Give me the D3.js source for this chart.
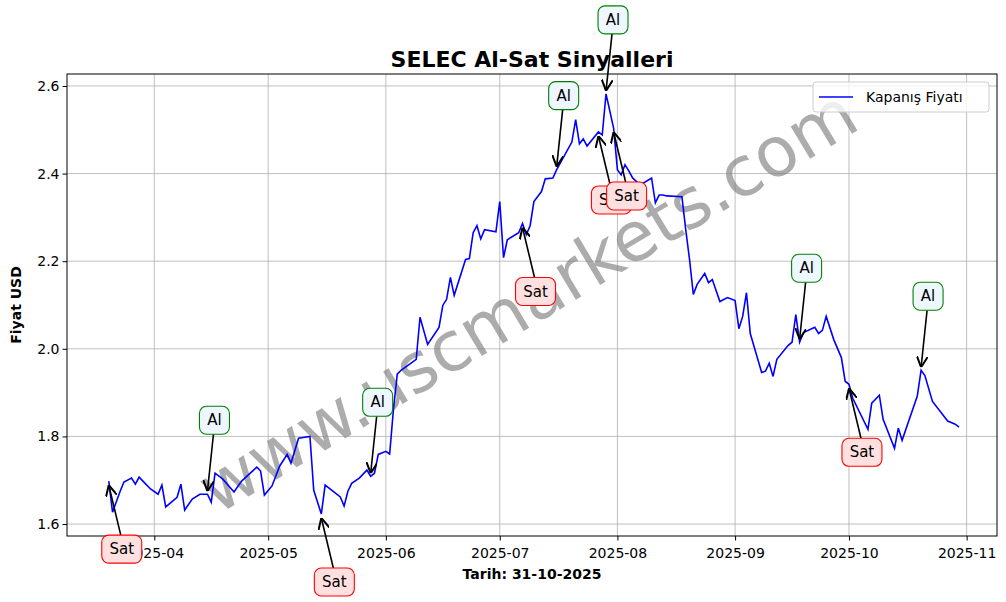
<!DOCTYPE html>
<html><head><meta charset="utf-8">
<script src="https://cdn.jsdelivr.net/npm/d3@7"></script>
<style>body{margin:0;background:#fff}text{font-family:"DejaVu Sans",sans-serif}</style>
</head><body><svg id="c" width="1006" height="602"></svg>
<script>
const dates = ["2025-03-20","2025-03-21","2025-03-23","2025-03-24","2025-03-26","2025-03-27","2025-03-28","2025-03-29","2025-03-31","2025-04-02","2025-04-03","2025-04-04","2025-04-07","2025-04-08","2025-04-09","2025-04-11","2025-04-13","2025-04-15","2025-04-16","2025-04-17","2025-04-19","2025-04-22","2025-04-24","2025-04-28","2025-04-29","2025-04-30","2025-05-02","2025-05-04","2025-05-06","2025-05-07","2025-05-09","2025-05-12","2025-05-13","2025-05-15","2025-05-16","2025-05-20","2025-05-21","2025-05-22","2025-05-23","2025-05-25","2025-05-27","2025-05-28","2025-05-29","2025-05-30","2025-06-01","2025-06-02","2025-06-03","2025-06-04","2025-06-05","2025-06-09","2025-06-10","2025-06-12","2025-06-15","2025-06-16","2025-06-17","2025-06-18","2025-06-19","2025-06-22","2025-06-23","2025-06-24","2025-06-25","2025-06-26","2025-06-27","2025-06-30","2025-07-01","2025-07-02","2025-07-03","2025-07-06","2025-07-07","2025-07-08","2025-07-09","2025-07-10","2025-07-12","2025-07-13","2025-07-15","2025-07-16","2025-07-20","2025-07-21","2025-07-22","2025-07-23","2025-07-24","2025-07-27","2025-07-28","2025-07-29","2025-07-31","2025-08-01","2025-08-02","2025-08-03","2025-08-04","2025-08-05","2025-08-07","2025-08-10","2025-08-11","2025-08-12","2025-08-13","2025-08-14","2025-08-18","2025-08-19","2025-08-20","2025-08-21","2025-08-22","2025-08-24","2025-08-25","2025-08-26","2025-08-28","2025-08-30","2025-09-01","2025-09-02","2025-09-03","2025-09-04","2025-09-05","2025-09-08","2025-09-09","2025-09-10","2025-09-11","2025-09-12","2025-09-15","2025-09-16","2025-09-17","2025-09-18","2025-09-19","2025-09-22","2025-09-23","2025-09-24","2025-09-25","2025-09-27","2025-09-29","2025-09-30","2025-10-01","2025-10-02","2025-10-06","2025-10-07","2025-10-08","2025-10-09","2025-10-10","2025-10-13","2025-10-14","2025-10-15","2025-10-19","2025-10-20","2025-10-21","2025-10-23","2025-10-27","2025-10-29","2025-10-30"];
const prices = [1.698,1.627,1.675,1.696,1.705,1.691,1.707,1.698,1.680,1.668,1.689,1.639,1.661,1.691,1.632,1.657,1.668,1.668,1.650,1.716,1.703,1.673,1.698,1.730,1.721,1.666,1.687,1.732,1.759,1.739,1.796,1.800,1.677,1.623,1.689,1.662,1.641,1.675,1.693,1.705,1.723,1.709,1.716,1.759,1.766,1.760,1.862,1.942,1.951,1.976,2.072,2.010,2.049,2.099,2.113,2.163,2.122,2.204,2.206,2.265,2.281,2.251,2.272,2.267,2.336,2.208,2.249,2.265,2.286,2.261,2.281,2.336,2.359,2.388,2.390,2.409,2.472,2.523,2.468,2.479,2.463,2.495,2.488,2.582,2.504,2.409,2.397,2.420,2.406,2.390,2.374,2.390,2.333,2.351,2.351,2.349,2.347,2.272,2.204,2.124,2.147,2.172,2.151,2.158,2.108,2.117,2.110,2.046,2.074,2.128,2.035,1.946,1.949,1.967,1.937,1.976,2.008,2.015,2.078,2.015,2.037,2.049,2.035,2.042,2.074,2.021,1.980,1.926,1.919,1.887,1.816,1.876,1.885,1.894,1.839,1.773,1.819,1.791,1.892,1.951,1.939,1.880,1.835,1.828,1.821];
const signalDates = ["2025-03-20","2025-04-15","2025-05-15","2025-05-28","2025-07-07","2025-07-16","2025-07-27","2025-07-29","2025-07-31","2025-09-18","2025-10-01","2025-10-20"];
const signalTypes = ["Sat","Al","Sat","Al","Sat","Al","Sat","Al","Sat","Al","Sat","Al"];
const yTicks = [1.6,1.8,2.0,2.2,2.4,2.6];
const xTickLabels = ["2025-04","2025-05","2025-06","2025-07","2025-08","2025-09","2025-10","2025-11"];

const P = d3.timeParse("%Y-%m-%d");
const data = dates.map((d,i)=>({d:P(d),v:prices[i]}));
const svg = d3.select("#c");
const L=67,R=997,T=74,B=536;
const x = d3.scaleTime().domain([P("2025-03-09"),P("2025-11-09")]).range([L,R]);
const y = d3.scaleLinear().domain([1.5727,2.6273]).range([B,T]);

const xt = xTickLabels.map(s=>P(s+"-01"));
svg.append("g").selectAll("line").data(xt).join("line")
 .attr("x1",d=>x(d)).attr("x2",d=>x(d)).attr("y1",T).attr("y2",B).attr("stroke","#b0b0b0").attr("stroke-width",0.8);
svg.append("g").selectAll("line").data(yTicks).join("line")
 .attr("x1",L).attr("x2",R).attr("y1",d=>y(d)).attr("y2",d=>y(d)).attr("stroke","#b0b0b0").attr("stroke-width",0.8);

svg.append("text").attr("transform","translate(530,305) rotate(-31)").attr("text-anchor","middle")
 .attr("dominant-baseline","middle").attr("font-size",69).attr("fill","#808080").attr("opacity",0.65).text("www.uscmarkets.com");

svg.append("path").datum(data).attr("fill","none").attr("stroke","#0000ff").attr("stroke-width",1.6)
 .attr("d",d3.line().x(d=>x(d.d)).y(d=>y(d.v)));

const gx = svg.append("g").attr("transform",`translate(0,${B})`)
 .call(d3.axisBottom(x).tickValues(xt).tickFormat((d,i)=>xTickLabels[i]).tickSize(4.5));
const gy = svg.append("g").attr("transform",`translate(${L},0)`)
 .call(d3.axisLeft(y).tickValues(yTicks).tickFormat(d3.format(".1f")).tickSize(4.5));
[gx,gy].forEach(g=>{g.selectAll("text").attr("font-size",14).attr("fill","#000").style("font-family","DejaVu Sans");g.select(".domain").remove();g.selectAll(".tick line").attr("stroke","#000");});
gx.selectAll("text").attr("dy","1em");
svg.append("rect").attr("x",L).attr("y",T).attr("width",R-L).attr("height",B-T).attr("fill","none").attr("stroke","#000").attr("stroke-width",1);

const defs = svg.append("defs");
defs.append("marker").attr("id","ah").attr("viewBox","0 0 10 10").attr("refX",10).attr("refY",5)
 .attr("markerWidth",7).attr("markerHeight",7).attr("orient","auto-start-reverse")
 .append("path").attr("d","M0,0 L10,5 L0,10").attr("fill","none").attr("stroke","#000").attr("stroke-width",1.8);
const lookup = new Map(dates.map((d,i)=>[d,prices[i]]));
signalDates.forEach((sd,i)=>{
  const t=signalTypes[i], px=x(P(sd)), py=y(lookup.get(sd));
  const sat = t==="Sat";
  const tx=px+(sat?13:7), ty=py+(sat?68:-74);
  const w = sat?40:30, h=28;
  const ey = sat? py+4 : py-3;
  const sy = sat? ty-h/2 : ty+h/2;
  svg.append("line").attr("x1",tx-1).attr("y1",sy).attr("x2",px).attr("y2",ey)
   .attr("stroke","#000").attr("stroke-width",1.6).attr("marker-end","url(#ah)");
  svg.append("rect").attr("x",tx-w/2).attr("y",ty-h/2).attr("width",w).attr("height",h).attr("rx",7)
   .attr("fill",sat?"#ffe0e0":"#eef6ff").attr("stroke",sat?"#ff0000":"#008000").attr("stroke-width",1.1);
  svg.append("text").attr("x",tx).attr("y",ty).attr("text-anchor","middle").attr("dominant-baseline","central")
   .attr("font-size",15).text(t);
});

svg.append("text").attr("x",532).attr("y",67).attr("text-anchor","middle").attr("font-size",22).attr("font-weight","bold").text("SELEC Al-Sat Sinyalleri");
svg.append("text").attr("x",532).attr("y",579).attr("text-anchor","middle").attr("font-size",14).attr("font-weight","bold").text("Tarih: 31-10-2025");
svg.append("text").attr("transform","translate(21,305) rotate(-90)").attr("text-anchor","middle").attr("font-size",14).attr("font-weight","bold").text("Fiyat USD");

const lg = svg.append("g");
lg.append("rect").attr("x",813).attr("y",82).attr("width",176).attr("height",30).attr("rx",3).attr("fill","#fff").attr("fill-opacity",0.8).attr("stroke","#ccc");
lg.append("line").attr("x1",819).attr("x2",853).attr("y1",97).attr("y2",97).attr("stroke","#0000ff").attr("stroke-width",1.6);
lg.append("text").attr("x",866).attr("y",102).attr("font-size",14).text("Kapanış Fiyatı");
</script></body></html>
